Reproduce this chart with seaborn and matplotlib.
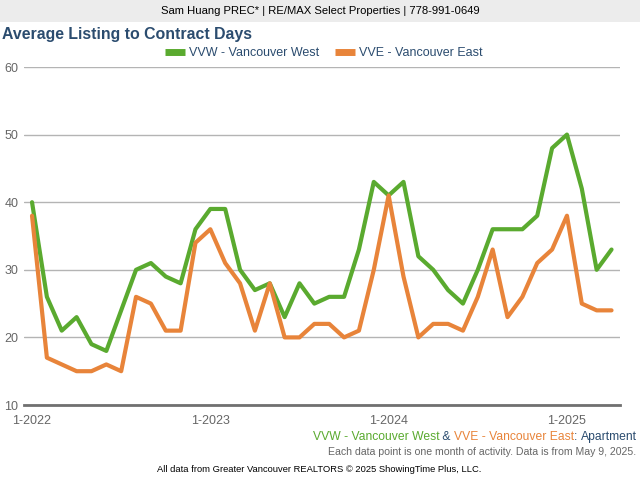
import matplotlib
matplotlib.use("Agg")
import matplotlib.pyplot as plt
import seaborn as sns
import pandas as pd
from matplotlib.patches import Rectangle

# ---- data ----
months = list(range(40))  # Jan 2022 .. Apr 2025
vvw = [40, 26, 21, 23, 19, 18, 24, 30, 31, 29, 28, 36,
       39, 39, 30, 27, 28, 23, 28, 25, 26, 26, 33, 43,
       41, 43, 32, 30, 27, 25, 30, 36, 36, 36, 38, 48,
       50, 42, 30, 33]
vve = [38, 17, 16, 15, 15, 16, 15, 26, 25, 21, 21, 34,
       36, 31, 28, 21, 28, 20, 20, 22, 22, 20, 21, 30,
       41, 29, 20, 22, 22, 21, 26, 33, 23, 26, 31, 33,
       38, 25, 24, 24]
series_names = ["VVW - Vancouver West", "VVE - Vancouver East"]
tick_pos = [0, 12, 24, 36]
tick_labels = ["1-2022", "1-2023", "1-2024", "1-2025"]
y_ticks = [10, 20, 30, 40, 50, 60]

GREEN = "#5aaa2f"
ORANGE = "#e8843a"
BLUE = "#2b4c6f"
GRAY = "#666666"

df = pd.DataFrame({
    "month": months * 2,
    "days": vvw + vve,
    "series": [series_names[0]] * len(vvw) + [series_names[1]] * len(vve),
})

sns.set_style("white")
plt.rcParams["font.family"] = ["Liberation Sans", "DejaVu Sans"]

fig = plt.figure(figsize=(6.4, 4.8), dpi=100)
ax = fig.add_axes([24 / 640, 1 - 405 / 480, 596 / 640, 338 / 480])

sns.lineplot(data=df, x="month", y="days", hue="series",
             palette=[GREEN, ORANGE], linewidth=3, ax=ax, legend=True)

ax.set_xlim(-0.54, 39.57)
ax.set_ylim(10, 60)
ax.set_yticks(y_ticks)
ax.set_xticks(tick_pos)
ax.set_xticklabels(tick_labels)
ax.set_xlabel("")
ax.set_ylabel("")
ax.grid(axis="y", color="#b4b4b4", linewidth=1)
ax.set_axisbelow(True)
for s in ["top", "right", "left"]:
    ax.spines[s].set_visible(False)
ax.spines["bottom"].set_color("#707070")
ax.spines["bottom"].set_linewidth(2)
ax.tick_params(axis="y", length=0, labelsize=9, labelcolor=GRAY, pad=4)
ax.tick_params(axis="x", length=5, width=2, color="#707070", direction="out",
               labelsize=9, labelcolor=GRAY, pad=2)

handles, labels = ax.get_legend_handles_labels()
if ax.get_legend():
    ax.get_legend().remove()
leg = fig.legend(handles, labels, loc="center", bbox_to_anchor=(324 / 640, 1 - 53 / 480),
                 ncol=2, frameon=False, fontsize=9, handlelength=1.6,
                 handletextpad=0.3, columnspacing=1.3)
for t in leg.get_texts():
    t.set_color(BLUE)
for h in leg.legend_handles:
    h.set_linewidth(5)
    h.set_solid_capstyle("butt")

# banner
fig.patches.append(Rectangle((0, 1 - 22 / 480), 1, 22 / 480, transform=fig.transFigure,
                             facecolor="#ececec", edgecolor="none", zorder=0))
fig.text(320 / 640, 1 - 11 / 480, "Sam Huang PREC* | RE/MAX Select Properties | 778-991-0649",
         ha="center", va="center", fontsize=8.1, color="black")

fig.text(2 / 640, 1 - 35 / 480, "Average Listing to Contract Days", ha="left", va="center",
         fontsize=11.4, fontweight="bold", color=BLUE)

# multi-coloured subtitle, right-aligned, chained right to left
pieces = [("VVW - Vancouver West", GREEN), (" & ", BLUE), ("VVE - Vancouver East", ORANGE),
          (": ", BLUE), ("Apartment", BLUE)]
anchor = fig.text(637 / 640, 1 - 437 / 480, pieces[-1][0], ha="right", va="center",
                  fontsize=8.7, color=pieces[-1][1])
for txt, col in reversed(pieces[:-1]):
    anchor = ax.annotate(txt, xy=(0, 0), xycoords=anchor, ha="right", va="bottom",
                         fontsize=8.7, color=col, annotation_clip=False)

fig.text(636 / 640, 1 - 452 / 480,
         "Each data point is one month of activity. Data is from May 9, 2025.",
         ha="right", va="center", fontsize=7.6, color=GRAY)
fig.text(319 / 640, 1 - 470 / 480,
         "All data from Greater Vancouver REALTORS \u00a9 2025 ShowingTime Plus, LLC.",
         ha="center", va="center", fontsize=6.75, color="black")

fig.savefig("out.png", dpi=100)
